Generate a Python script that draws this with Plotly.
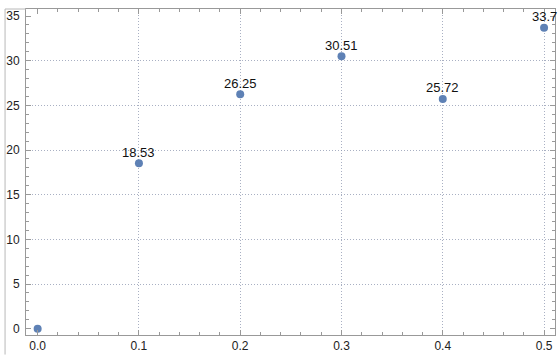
import plotly.graph_objects as go

# Measured response at each setting
x_vals = [0.0, 0.1, 0.2, 0.3, 0.4, 0.5]
y_vals = [0.0, 18.53, 26.25, 30.51, 25.72, 33.7]
point_labels = ["", "18.53", "26.25", "30.51", "25.72", "33.7"]

x_grid = [0.1, 0.2, 0.3, 0.4, 0.5]
y_grid = [5, 10, 15, 20, 25, 30]

x_range = [-0.0115, 0.5108]
y_range = [-0.71, 35.79]

frame_color = "#999999"
grid_color = "rgba(140,150,175,0.75)"
point_color = "#5E81B5"
font_family = "Liberation Sans, Arial, sans-serif"

fig = go.Figure()

# Invisible trace that carries the dotted grid axes
fig.add_trace(go.Scatter(
    x=x_grid, y=y_grid[:len(x_grid)], xaxis="x2", yaxis="y2",
    mode="markers", marker=dict(opacity=0), hoverinfo="skip", showlegend=False,
))

fig.add_trace(go.Scatter(
    x=x_vals, y=y_vals,
    mode="markers",
    marker=dict(color=point_color, size=8),
    cliponaxis=False,
    showlegend=False,
))

# Value labels just above each point
annotations = [
    dict(x=xv, y=yv, text=lab, showarrow=False, yshift=11,
         xanchor="center", yanchor="middle",
         font=dict(family=font_family, size=13, color="#111111"))
    for xv, yv, lab in zip(x_vals, y_vals, point_labels) if lab
]

axis_common = dict(
    showline=True, linecolor=frame_color, linewidth=1,
    mirror="ticks", ticks="inside", tickcolor=frame_color,
    ticklen=5, tickwidth=1, showgrid=False, zeroline=False,
    tickfont=dict(family=font_family, size=12, color="#222222"),
)

fig.update_layout(
    width=559, height=356,
    margin=dict(l=26, r=3, t=9, b=19),
    paper_bgcolor="white", plot_bgcolor="white",
    annotations=annotations,
    xaxis=dict(
        range=x_range, tick0=0, dtick=0.1, tickformat=".1f",
        minor=dict(dtick=0.02, tick0=0, ticks="inside", ticklen=3,
                   tickcolor=frame_color, showgrid=False),
        **axis_common,
    ),
    yaxis=dict(
        range=y_range, tick0=0, dtick=5, ticklabelstandoff=3,
        minor=dict(dtick=1, tick0=0, ticks="inside", ticklen=3,
                   tickcolor=frame_color, showgrid=False),
        **axis_common,
    ),
    xaxis2=dict(
        range=x_range, overlaying="x", tickvals=x_grid, showticklabels=False,
        ticks="", showline=False, zeroline=False, showgrid=True,
        gridcolor=grid_color, griddash="1px,2px", gridwidth=1,
    ),
    yaxis2=dict(
        range=y_range, overlaying="y", tickvals=y_grid, showticklabels=False,
        ticks="", showline=False, zeroline=False, showgrid=True,
        gridcolor=grid_color, griddash="1px,2px", gridwidth=1,
    ),
    shapes=[
        # outer border of the graphic on the left and top
        dict(type="line", xref="paper", yref="paper", x0=-0.0396, x1=-0.0396,
             y0=1, y1=-0.06, line=dict(color="#b8b8b8", width=1)),
        dict(type="line", xref="paper", yref="paper", x0=-0.0396, x1=0,
             y0=1, y1=1, line=dict(color="#b8b8b8", width=1)),
    ],
)

fig.write_html("out.html")
